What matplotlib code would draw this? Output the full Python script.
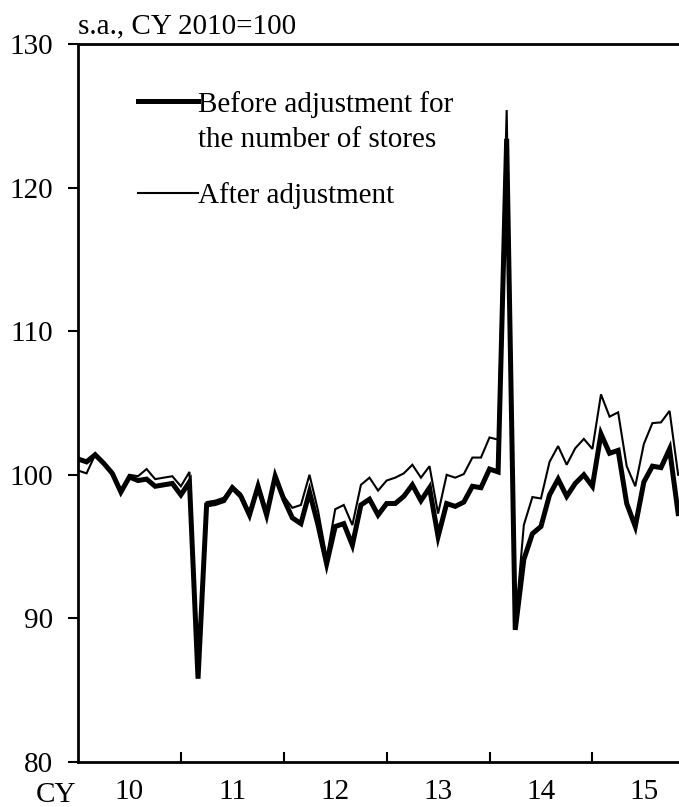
import numpy as np
import matplotlib
matplotlib.use("Agg")
import matplotlib.pyplot as plt
from matplotlib.lines import Line2D

plt.rcParams['font.family'] = ['Liberation Serif', 'DejaVu Serif']

# monthly index, s.a., CY 2010=100 (Jan 2010 - Nov 2015)
before = [101.1, 100.9, 101.4, 100.8, 100.1, 98.8, 99.85, 99.6, 99.7, 99.2, 99.3, 99.4,
          98.6, 99.5, 85.8, 97.9, 98.0, 98.2, 99.1, 98.5, 97.2, 99.2, 97.2, 99.9,
          98.3, 97.0, 96.6, 98.8, 96.5, 93.8, 96.4, 96.6, 95.1, 97.9, 98.3, 97.2,
          98.0, 98.0, 98.5, 99.3, 98.2, 99.1, 95.7, 98.0, 97.8, 98.1, 99.2, 99.1,
          100.4, 100.2, 123.4, 89.2, 94.1, 95.9, 96.4, 98.6, 99.7, 98.5, 99.4, 100.0,
          99.2, 102.85, 101.5, 101.7, 98.0, 96.4, 99.5, 100.6, 100.5, 101.8, 97.3]
after = [100.3, 100.1, 101.4, 100.8, 100.1, 98.8, 100.0, 99.9, 100.4, 99.7, 99.8, 99.9,
         99.2, 100.2, 85.9, 98.1, 98.2, 98.4, 99.2, 98.7, 97.4, 99.4, 97.5, 100.0,
         98.5, 97.7, 97.9, 100.0, 97.5, 94.2, 97.6, 97.9, 96.5, 99.3, 99.8, 98.9,
         99.6, 99.8, 100.1, 100.7, 99.8, 100.6, 97.3, 100.0, 99.8, 100.05, 101.2, 101.2,
         102.6, 102.45, 125.4, 89.5, 96.5, 98.45, 98.35, 100.9, 102.0, 100.7, 101.85, 102.5,
         101.8, 105.6, 104.05, 104.35, 100.6, 99.2, 102.15, 103.6, 103.65, 104.45, 100.0]
year_labels = ['10', '11', '12', '13', '14', '15']

x = np.arange(len(before))
fs = 21

fig = plt.figure(figsize=(6.79, 8.07), dpi=100)
ax = fig.add_axes([78 / 679, 45 / 807, 1 - 78 / 679, (762 - 44) / 807])

l1, = ax.plot(x, before, color='black', lw=3.6, solid_joinstyle='miter')
l2, = ax.plot(x, after, color='black', lw=1.5, solid_joinstyle='miter')

ax.set_xlim(0, 70.1)
ax.set_ylim(80, 130)

for s in ['left', 'top', 'bottom']:
    ax.spines[s].set_linewidth(2.0)
ax.spines['right'].set_visible(False)

# y axis
ax.set_yticks(np.arange(80, 131, 10))
ax.tick_params(axis='y', direction='out', length=7, width=1.5, pad=11, labelsize=fs)

# x axis: year boundaries as ticks, labels centred on each year
ax.set_xticks(np.arange(12, 71, 12))
ax.set_xticklabels([])
ax.tick_params(axis='x', which='major', direction='in', length=7, width=1.5)
ax.set_xticks(np.arange(6, 71, 12), minor=True)
ax.set_xticklabels(year_labels, minor=True)
ax.tick_params(axis='x', which='minor', length=0, pad=12.5, labelsize=fs)

ax.annotate('CY', xy=(0, 0), xycoords='axes fraction', xytext=(-16, -23.5),
            textcoords='offset points', ha='center', va='center', fontsize=fs)
ax.annotate('s.a., CY 2010=100', xy=(0, 1), xycoords='axes fraction',
            xytext=(0, 3.5), textcoords='offset points',
            ha='left', va='bottom', fontsize=fs)

# legend: two-line label with the handle next to the first line
blank = Line2D([], [], color='none')
leg1 = ax.legend([l1, blank], ['Before adjustment for', 'the number of stores'],
                 loc='upper left', bbox_to_anchor=(0.10, 0.935), frameon=False,
                 fontsize=fs, handlelength=2.05, handletextpad=0.0,
                 labelspacing=0.32, borderpad=0, borderaxespad=0)
ax.add_artist(leg1)
ax.legend([l2], ['After adjustment'], loc='upper left',
          bbox_to_anchor=(0.10, 0.808), frameon=False, fontsize=fs,
          handlelength=2.05, handletextpad=0.0, borderpad=0, borderaxespad=0)

fig.savefig('out.png', dpi=100)
